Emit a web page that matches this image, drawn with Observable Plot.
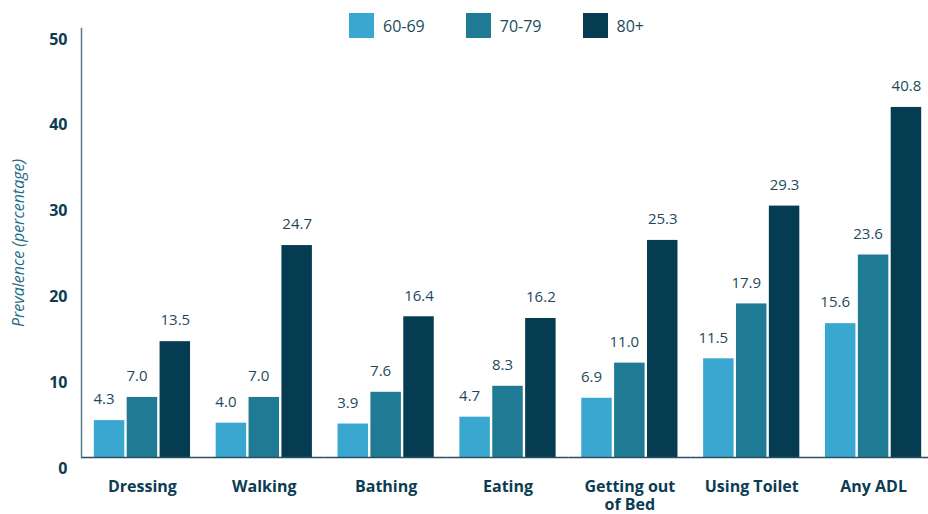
<!DOCTYPE html>
<html><head><meta charset="utf-8">
<script src="https://cdn.jsdelivr.net/npm/d3@7"></script>
<script src="https://cdn.jsdelivr.net/npm/@observablehq/plot@0.6"></script>
<style>
body{margin:0;background:#fff;font-family:"Open Sans",sans-serif;overflow:hidden;}
#wrap{position:relative;width:928px;height:514px;overflow:hidden;}
#legend{position:absolute;left:349px;top:13px;display:flex;align-items:center;}
.item{display:flex;align-items:center;margin-right:41px;font-size:16px;color:#1b4a5e;}
.sw{width:25px;height:25px;margin-right:9px;}
</style></head><body><div id="wrap"><div id="legend"></div></div>
<script>
const categories = ["Dressing","Walking","Bathing","Eating","Getting out\nof Bed","Using Toilet","Any ADL"];
const ageGroups = ["60-69","70-79","80+"];
const values6069 = [4.3,4.0,3.9,4.7,6.9,11.5,15.6];
const values7079 = [7.0,7.0,7.6,8.3,11.0,17.9,23.6];
const values80 = [13.5,24.7,16.4,16.2,25.3,29.3,40.8];
const yTicks = [0,10,20,30,40,50];
const yLabel = "Prevalence (percentage)";
const colors = ["#3aa7d0","#1f7a94","#053c51"];

const seriesValues = [values6069, values7079, values80];
const data = [];
categories.forEach((c, ci) => ageGroups.forEach((a, ai) => data.push({category: c, age: a, value: seriesValues[ai][ci]})));

const legend = document.getElementById("legend");
ageGroups.forEach((a, i) => {
  const it = document.createElement("div"); it.className = "item";
  const sw = document.createElement("div"); sw.className = "sw"; sw.style.background = colors[i];
  const t = document.createElement("span"); t.textContent = a;
  it.appendChild(sw); it.appendChild(t); legend.appendChild(it);
});

const textFill = "#0b3c52";
const chart = Plot.plot({
  width: 928, height: 514,
  marginTop: 28, marginBottom: 57, marginLeft: 81, marginRight: -6,
  style: {fontFamily: "'Open Sans', sans-serif", background: "transparent", overflow: "visible"},
  fx: {domain: categories, paddingInner: 0, paddingOuter: 0, round: false, label: null},
  x: {domain: ageGroups, paddingInner: 0.073, paddingOuter: 0.39, round: false, axis: null},
  y: {domain: [0, 50]},
  color: {domain: ageGroups, range: colors},
  marks: [
    Plot.barY(data, {fx: "category", x: "age", y: "value", fill: "age"}),
    ...ageGroups.map((a, i) => Plot.text(data.filter(d => d.age === a), {
      fx: "category", x: "age", y: "value", text: d => d.value.toFixed(1),
      dy: -21, dx: i < 2 ? -5.5 : 0, lineAnchor: "middle", fontSize: 15, fill: "#1b4a5e"
    })),
    Plot.ruleY([0], {stroke: "#2b5062", strokeWidth: 1.5}),
    Plot.frame({anchor: "left", facetAnchor: "left", stroke: "#557a8a", strokeWidth: 1.5}),
    Plot.axisY({ticks: yTicks, tickSize: 0, tickPadding: 14, dy: 11, fontSize: 16, fontWeight: "bold", fill: textFill, label: null}),
    Plot.text([yLabel], {facetAnchor: "left", frameAnchor: "left", textAnchor: "middle", rotate: -90, dx: -63, fontSize: 16, fontStyle: "italic", fill: "#1e6a84", text: d => d}),
    Plot.axisFx({anchor: "bottom", tickSize: 0, tickPadding: 21, fontSize: 16, fontWeight: "bold", fill: textFill, label: null, lineHeight: 1.15})
  ]
});
chart.style.position = "absolute"; chart.style.left = "0"; chart.style.top = "0";
document.getElementById("wrap").insertBefore(chart, legend);
</script></body></html>
